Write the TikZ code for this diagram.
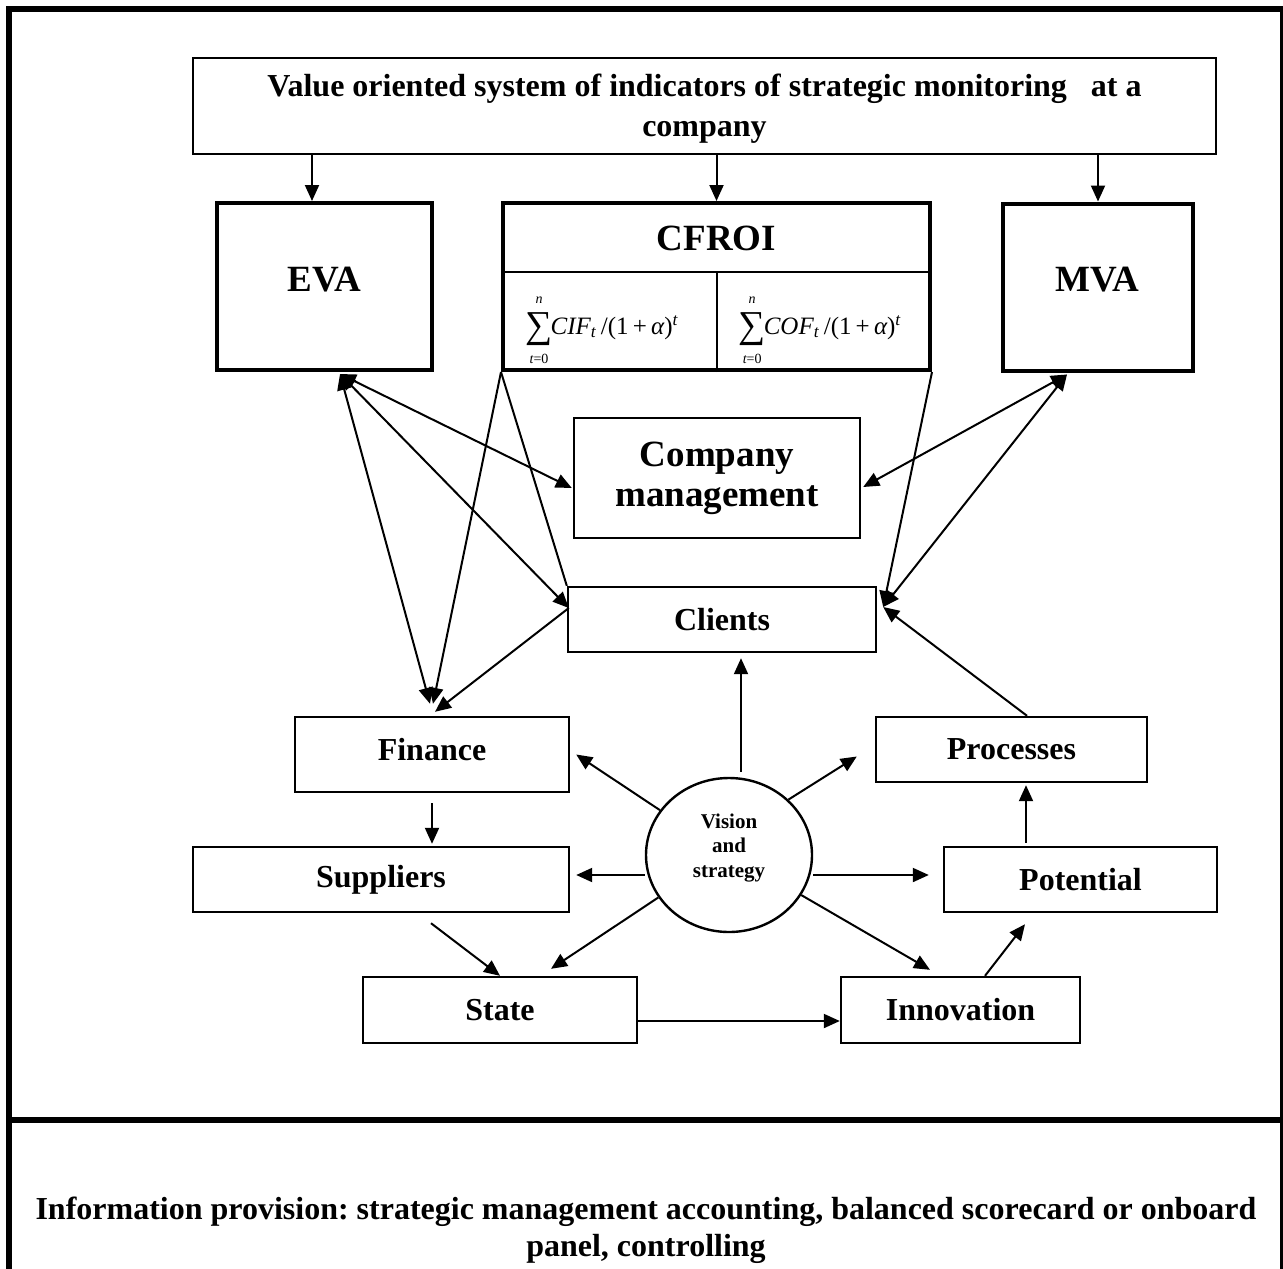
\documentclass[tikz,border=0pt]{standalone}
\usepackage{fontspec}
\setmainfont{Liberation Serif}
\usetikzlibrary{arrows.meta,shapes.geometric,calc}
\frenchspacing
\newcommand\mysum[2]{\begin{tabular}[c]{@{}c@{}}{\fontsize{7}{7}\selectfont\itshape #2}\\[0pt]{\fontsize{19}{19}\selectfont ∑}\\[-1pt]{\fontsize{7}{7}\selectfont #1}\end{tabular}}
\tikzset{
  tbox/.style={draw, line width=1.2pt, inner sep=0pt, align=center, fill=white,
     font=\fontsize{16}{20}\selectfont\bfseries},
  kbox/.style={draw, line width=2pt, inner sep=0pt, align=center, fill=white},
  bigtext/.style={font=\fontsize{18.5}{22}\selectfont\bfseries, inner sep=0pt},
  formula/.style={font=\fontsize{12.5}{14}\selectfont, inner sep=0pt},
  arr/.style={line width=1pt, -{Triangle[length=8pt,width=7pt]}},
  darr/.style={line width=1pt, {Triangle[length=8pt,width=7pt]}-{Triangle[length=8pt,width=7pt]}},
  plainline/.style={line width=1pt},
}
\begin{document}
\begin{tikzpicture}[x=0.5pt,y=-0.5pt]
\useasboundingbox (0,0) rectangle (1283,1268);
% outer frame and separator
\draw[line width=3pt] (9,1280) -- (9,9) -- (1283,9) -- (1283,1280);
\draw[line width=3pt] (9,1119.5) -- (1283,1119.5);

% nodes
\node[tbox, minimum width=511.5pt, minimum height=48pt] (top) at (704.5,106) {};
\node[align=center, font=\fontsize{16}{20}\selectfont\bfseries, inner sep=0pt] (toptext) at (704.5,109)
  {Value oriented system of indicators of strategic monitoring~~ at a\\company};
\node[kbox, minimum width=107.5pt, minimum height=83.5pt] (eva) at (324.5,286.5) {};
\node[bigtext] (evat) at (324.5,280) {EVA};
\node[kbox, minimum width=213.5pt, minimum height=83.5pt] (cfroi) at (716.5,286.5) {};
\node[kbox, minimum width=95pt, minimum height=83.5pt] (mva) at (1098,287) {};
\node[bigtext] (mvat) at (1097,280) {MVA};
\node[bigtext] (cfroit) at (716.5,238) {CFROI};
\node[formula] (cif) at (602,328) {\mysum{\itshape t\upshape =0}{n}\hspace{-1pt}\itshape CIF\textsubscript{\itshape t}\upshape\,/(1\,+\,\itshape α\upshape)\textsuperscript{\itshape t}};
\node[formula] (cof) at (820,328) {\mysum{\itshape t\upshape =0}{n}\hspace{-1pt}\itshape COF\textsubscript{\itshape t}\upshape\,/(1\,+\,\itshape α\upshape)\textsuperscript{\itshape t}};
\coordinate (cfl) at ([yshift=-35.5pt]cfroi.north west);
\draw[line width=1pt] (cfl) -- (cfl -| cfroi.east);
\draw[line width=1pt] (cfroi.south) -- (cfroi.south |- cfl);

\node[tbox, minimum width=143pt, minimum height=60pt,
  font=\fontsize{18.5}{20}\selectfont\bfseries] (company) at (717,478) {Company\\management};
\node[tbox, minimum width=154pt, minimum height=32.5pt] (clients) at (722,619.5) {Clients};
\node[tbox, minimum width=137pt, minimum height=37.5pt] (finance) at (432,754.5) {};
\node[font=\fontsize{16}{20}\selectfont\bfseries, inner sep=0pt] (financet) at (432,750) {Finance};
\node[tbox, minimum width=188pt, minimum height=32.5pt] (suppliers) at (381,879.5) {Suppliers};
\node[tbox, minimum width=137pt, minimum height=33pt] (state) at (500,1010) {State};
\node[tbox, minimum width=119.5pt, minimum height=33pt] (innovation) at (960.5,1010) {Innovation};
\node[tbox, minimum width=135.5pt, minimum height=32.5pt] (processes) at (1011.5,749.5) {Processes};
\node[tbox, minimum width=136.5pt, minimum height=32.5pt] (potential) at (1080.5,879.5) {Potential};
\node[draw, ellipse, line width=1.2pt, inner sep=0pt, minimum width=83pt, minimum height=77pt] (vision) at (729,855) {};
\node[align=center, inner sep=0pt, font=\fontsize{10.5}{12.25}\selectfont\bfseries] (visiont) at (729,848)
  {Vision\\and\\strategy};

\node[align=center, font=\fontsize{16}{18.5}\selectfont\bfseries] (info) at (646,1230)
  {Information provision: strategic management accounting, balanced scorecard or onboard\\panel, controlling};

% top arrows
\draw[arr] ([xshift=-6.25pt]eva.north |- top.south) -- ([xshift=-6.25pt]eva.north);
\draw[arr] (cfroi.north |- top.south) -- (cfroi.north);
\draw[arr] (mva.north |- top.south) -- (mva.north);

% EVA links
\coordinate (E) at ([xshift=7.75pt,yshift=-1pt]eva.south);
\coordinate (M) at ([xshift=-15.5pt,yshift=-1pt]mva.south);
\coordinate (clL) at ([xshift=1pt,yshift=5.75pt]clients.west);
\coordinate (clR) at ([xshift=3pt,yshift=6.25pt]clients.east);
\draw[darr] (E) -- ([xshift=-0.5pt,yshift=-5pt]company.west);
\draw[darr] (E) -- (clL);
\draw[darr] (E) -- ([xshift=-1pt,yshift=6pt]finance.north);
\draw[arr] (cfroi.south west) -- ([xshift=0.5pt,yshift=6pt]finance.north);
\draw[plainline] (cfroi.south west) -- (clients.north west);
\draw[arr] (clL) -- ([xshift=1.5pt,yshift=2pt]finance.north);
% MVA links
\draw[darr] (M) -- ([xshift=1pt,yshift=-4.5pt]company.east);
\draw[darr] (M) -- (clR);
\draw[arr] (cfroi.south east) -- (clR);
\draw[arr] ([xshift=7.75pt]processes.north) -- (clR);

% vision arrows
\draw[arr] ([xshift=6pt,yshift=2.5pt]vision.north) -- ([xshift=9.5pt,yshift=-2.5pt]clients.south);
\draw[arr] (vision.147) -- ([xshift=3pt]finance.east);
\draw[arr] (vision.43) -- ([xshift=-9pt,yshift=-3.5pt]processes.west);
\draw[arr] ([yshift=-10pt]vision.west) -- ([xshift=3pt,yshift=2.25pt]suppliers.east);
\draw[arr] ([yshift=-10pt]vision.east) -- ([xshift=-7pt,yshift=2.25pt]potential.west);
\draw[arr] (vision.211) -- ([xshift=25.5pt,yshift=3.5pt]state.north);
\draw[arr] (vision.331) -- ([xshift=-15.25pt,yshift=3pt]innovation.north);

% chain arrows
\draw[arr] ([yshift=-5pt]finance.south) -- ([yshift=1pt]finance.south |- suppliers.north);
\draw[arr] ([xshift=25pt,yshift=-5pt]suppliers.south) -- (state.north);
\draw[arr] ([yshift=-5.5pt]state.east) -- ([yshift=-5.5pt]innovation.west);
\draw[arr] ([xshift=12.25pt]innovation.north) -- ([xshift=-27.75pt,yshift=-5.5pt]potential.south);
\draw[arr] ([xshift=-27.25pt,yshift=1.5pt]potential.north) -- ([xshift=7.25pt,yshift=-1pt]processes.south);
\end{tikzpicture}
\end{document}
